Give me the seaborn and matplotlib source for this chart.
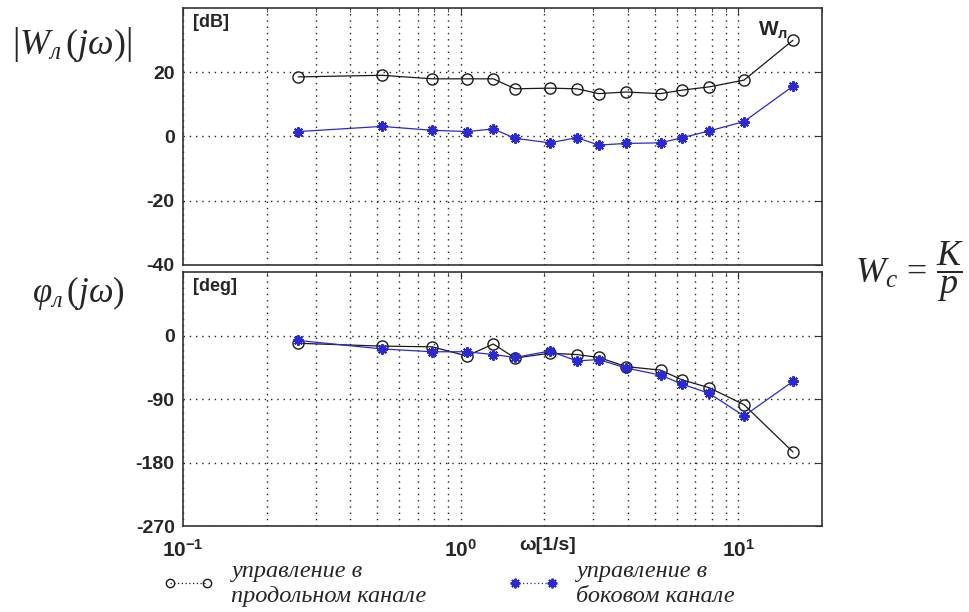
import numpy as np
import pandas as pd
import matplotlib
matplotlib.use("Agg")
import matplotlib.pyplot as plt
import seaborn as sns
from matplotlib.lines import Line2D
from matplotlib.ticker import FixedLocator, FixedFormatter, LogLocator, NullFormatter

# ---------------- data ----------------
freq = [0.26, 0.52, 0.79, 1.05, 1.31, 1.57, 2.09, 2.62, 3.14, 3.93, 5.24, 6.28, 7.85, 10.47, 15.71]
mag_long = [18.5, 19.0, 17.9, 17.9, 17.9, 14.8, 15.0, 14.8, 13.3, 13.8, 13.3, 14.4, 15.4, 17.5, 29.9]
mag_lat = [1.5, 3.1, 1.9, 1.5, 2.3, -0.6, -2.0, -0.4, -2.7, -2.2, -2.0, -0.4, 1.7, 4.6, 15.6]
ph_long = [-11, -15, -16, -29, -12, -32, -25, -27, -31, -44, -49, -63, -74, -98, -165]
ph_lat = [-7, -19, -23, -23, -27, -31, -22, -36, -34, -46, -56, -69, -82, -114, -65]

mag_ticks = [-40, -20, 0, 20]
ph_ticks = [-270, -180, -90, 0]
x_ticks = [0.1, 1, 10]
x_ticklabels = [r"$\mathbf{10^{-1}}$", r"$\mathbf{10^{0}}$", r"$\mathbf{10^{1}}$"]
label_long = "управление в\nпродольном канале"
label_lat = "управление в\nбоковом канале"

# ---------------- style ----------------
sns.set_style("white")
plt.rcParams["font.family"] = ["Liberation Sans", "DejaVu Sans"]
plt.rcParams["axes.unicode_minus"] = False
plt.rcParams["mathtext.fontset"] = "custom"
plt.rcParams["mathtext.rm"] = "Liberation Serif"
plt.rcParams["mathtext.it"] = "Liberation Serif:italic"
plt.rcParams["mathtext.bf"] = "Liberation Sans:bold"

BLACK = "#1a1a1a"
BLUE = "#2a2ad0"

fig = plt.figure(figsize=(9.7, 6.12), dpi=100)
ax1 = fig.add_axes([0.1887, 0.567, 0.6588, 0.4203])
ax2 = fig.add_axes([0.1887, 0.1405, 0.6588, 0.415])

star = (8, 2, 0)

def draw(ax, y1, y2):
    sns.lineplot(x=freq, y=y1, ax=ax, color=BLACK, linewidth=0.9, marker="o",
                 markersize=8, markerfacecolor="none", markeredgecolor=BLACK,
                 markeredgewidth=1.0, sort=False, estimator=None, zorder=3)
    sns.lineplot(x=freq, y=y2, ax=ax, color=BLUE, linewidth=0.9, marker=star,
                 markersize=7.5, markeredgecolor=BLUE, markeredgewidth=1.5,
                 sort=False, estimator=None, zorder=4)

draw(ax1, mag_long, mag_lat)
draw(ax2, ph_long, ph_lat)

for ax in (ax1, ax2):
    ax.set_xscale("log")
    ax.set_xlim(0.1, 20)
    ax.xaxis.set_major_locator(FixedLocator(x_ticks))
    ax.xaxis.set_minor_locator(LogLocator(base=10, subs=np.arange(2, 10)))
    ax.xaxis.set_minor_formatter(NullFormatter())
    ax.grid(True, which="both", axis="x", color="#222222", linestyle=(0, (1, 3.5)), linewidth=1.0)
    ax.grid(True, which="major", axis="y", color="#222222", linestyle=(0, (1, 3.5)), linewidth=1.0)
    ax.tick_params(which="both", direction="in", top=True, right=True, color="#333333")
    ax.tick_params(which="major", length=5, labelsize=14, pad=6)
    ax.tick_params(which="minor", length=3)
    for s in ax.spines.values():
        s.set_color("#333333")
        s.set_linewidth(1.2)
    ax.set_axisbelow(True)
    ax.set_xlabel("")
    ax.set_ylabel("")

ax1.set_ylim(-40, 40)
ax1.set_yticks(mag_ticks)
ax1.set_yticklabels([str(v) for v in mag_ticks], fontweight="bold")
ax1.xaxis.set_major_formatter(NullFormatter())

ax2.set_ylim(-270, 90)
ax2.set_yticks(ph_ticks)
ax2.set_yticklabels([str(v) for v in ph_ticks], fontweight="bold")
ax2.xaxis.set_major_formatter(FixedFormatter(x_ticklabels))
ax2.tick_params(axis="x", which="major", pad=9, labelsize=15)

ax1.text(0.016, 0.975, "[dB]", transform=ax1.transAxes, fontsize=13, fontweight="bold",
         ha="left", va="top")
ax2.text(0.016, 0.975, "[deg]", transform=ax2.transAxes, fontsize=13, fontweight="bold",
         ha="left", va="top")
ax1.text(0.9, 0.895, r"$\mathbf{W}_{\mathbf{л}}$", transform=ax1.transAxes, fontsize=15,
         ha="left", va="baseline")

ax2.set_xlabel("ω[1/s]", fontsize=14, fontweight="bold")
ax2.xaxis.set_label_coords(0.57, -0.075)
ax2.xaxis.label.set_va("center")

# formulas
fig.text(12 / 970, 1 - 45 / 612, r"$\left|W_{л}\,(j\omega)\right|$", fontsize=26,
         ha="left", va="center")
fig.text(32 / 970, 1 - 293 / 612, r"$\varphi_{л}\,(j\omega)$", fontsize=25,
         ha="left", va="center")
fig.text(855 / 970, 1 - 272 / 612, r"$W_c\,=\,\dfrac{K}{p}$", fontsize=26,
         ha="left", va="center")

# legend
h1 = Line2D([], [], color=BLACK, linestyle=(0, (1, 2)), linewidth=0.9, marker="o",
            markersize=6, markerfacecolor="none", markeredgecolor=BLACK)
h2 = Line2D([], [], color=BLUE, linestyle=(0, (1, 2)), linewidth=0.9, marker=star,
            markersize=7, markeredgecolor=BLUE, markeredgewidth=1.4)
for h, lab, x0 in ((h1, label_long, 163 / 970), (h2, label_lat, 508 / 970)):
    leg = fig.legend(handles=[h], labels=[lab], loc="center left",
                     bbox_to_anchor=(x0, 1 - 584 / 612), frameon=False,
                     borderpad=0, borderaxespad=0, handlelength=2.1, handletextpad=0.7,
                     numpoints=2, prop={"family": "Liberation Serif", "style": "italic", "size": 17.5})
    for t in leg.get_texts():
        t.set_linespacing(1.28)

fig.savefig("out.png", dpi=100)
